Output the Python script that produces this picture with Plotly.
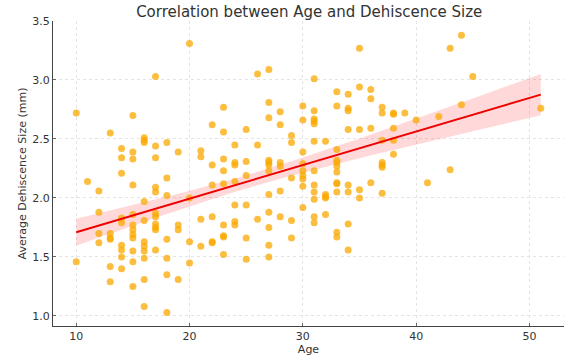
import numpy as np
import plotly.graph_objects as go

title = "Correlation between Age and Dehiscence Size"
x_label = "Age"
y_label = "Average Dehiscence Size (mm)"

age_groups = [10, 11, 12, 13, 14, 15, 16, 17, 18, 19, 20, 21, 22, 23, 24, 25, 26, 27, 28, 29,
              30, 31, 32, 33, 34, 35, 36, 37, 38, 39, 40, 41, 42, 43, 44, 45, 51]
size_groups = [
    [2.72, 1.46],
    [2.14],
    [2.06, 1.88, 1.70, 1.62],
    [2.55, 1.70, 1.66, 1.65, 1.42, 1.29],
    [2.42, 2.34, 2.21, 1.83, 1.79, 1.60, 1.56, 1.50, 1.40],
    [2.70, 2.39, 2.33, 2.11, 1.86, 1.77, 1.73, 1.69, 1.66, 1.55, 1.46, 1.25],
    [2.51, 2.49, 2.47, 1.97, 1.81, 1.63, 1.59, 1.55, 1.49, 1.31, 1.08],
    [3.03, 2.44, 2.34, 2.09, 2.05, 1.87, 1.84, 1.78, 1.75, 1.73, 1.56],
    [2.47, 2.17, 2.02, 1.65, 1.49, 1.35, 1.03],
    [2.39, 1.77, 1.73, 1.31],
    [3.31, 2.00, 1.63, 1.45],
    [2.40, 2.35, 1.82, 1.59],
    [2.62, 2.28, 2.11, 1.84, 1.63, 1.62],
    [2.77, 2.56, 2.33, 2.23, 2.12, 1.77, 1.68, 1.67, 1.52],
    [2.45, 2.30, 2.28, 2.14, 1.94, 1.80, 1.77],
    [2.58, 2.31, 2.19, 1.94, 1.66, 1.48],
    [3.05, 2.45, 1.82],
    [3.09, 2.81, 2.68, 2.32, 2.30, 2.28, 2.23, 2.03, 1.88, 1.75, 1.60, 1.50],
    [2.73, 2.62, 2.30, 2.27, 2.06, 1.84],
    [2.53, 2.47, 2.17, 1.81, 1.66],
    [2.78, 2.66, 2.39, 2.29, 2.23, 2.19, 2.16, 2.10, 1.92],
    [3.01, 2.74, 2.67, 2.65, 2.63, 2.48, 2.23, 2.11, 2.05, 1.99, 1.84, 1.79],
    [2.48, 2.03, 2.01, 2.00, 1.86],
    [2.90, 2.78, 2.41, 2.32, 2.30, 2.27, 2.22, 2.13, 2.12, 2.05, 1.71, 1.67],
    [2.88, 2.76, 2.74, 2.58, 2.11, 2.05, 1.78, 1.56],
    [3.27, 2.94, 2.58, 2.07, 2.00],
    [2.92, 2.84, 2.59, 2.13],
    [2.77, 2.72, 2.49, 2.30, 2.28, 2.26, 2.04],
    [2.72, 2.71, 2.59, 2.49, 2.37],
    [2.72],
    [2.66],
    [2.13],
    [2.69],
    [3.27, 2.24],
    [3.38, 2.79],
    [3.03],
    [2.76],
]
x_ticks = [10, 20, 30, 40, 50]
y_ticks = [1.0, 1.5, 2.0, 2.5, 3.0, 3.5]

ages = np.array([a for a, g in zip(age_groups, size_groups) for _ in g], dtype=float)
sizes = np.array([v for g in size_groups for v in g], dtype=float)

# linear regression with 95% confidence band
n = len(ages)
slope, intercept = np.polyfit(ages, sizes, 1)
xs = np.linspace(ages.min(), ages.max(), 100)
ys = intercept + slope * xs
resid = sizes - (intercept + slope * ages)
s = np.sqrt(np.sum(resid ** 2) / (n - 2))
xbar = ages.mean()
sxx = np.sum((ages - xbar) ** 2)
half = 1.97 * s * np.sqrt(1.0 / n + (xs - xbar) ** 2 / sxx)

fig = go.Figure()
fig.add_trace(go.Scatter(
    x=np.concatenate([xs, xs[::-1]]), y=np.concatenate([ys + half, (ys - half)[::-1]]),
    fill="toself", fillcolor="rgba(255,0,0,0.15)", line=dict(width=0),
    hoverinfo="skip", showlegend=False))
fig.add_trace(go.Scatter(
    x=ages, y=sizes, mode="markers",
    marker=dict(color="rgba(250,168,0,0.75)", size=7, line=dict(width=0)),
    showlegend=False))
fig.add_trace(go.Scatter(
    x=xs, y=ys, mode="lines", line=dict(color="#ee0000", width=2), showlegend=False))

axis_common = dict(
    showgrid=True, gridcolor="#e4e4e4", griddash="dot", gridwidth=1,
    showline=True, linecolor="#444", linewidth=1, mirror=False,
    ticks="inside", ticklen=3, tickcolor="#666",
    tickfont=dict(family="DejaVu Sans", size=11, color="#333"),
    zeroline=False, automargin=False,
)
fig.update_xaxes(range=[7.95, 53.05], tickvals=x_ticks,
                 title=dict(text=x_label, font=dict(family="DejaVu Sans", size=11, color="#333"), standoff=1),
                 **axis_common)
fig.update_yaxes(range=[0.915, 3.5], tickvals=y_ticks, tickformat=".1f",
                 title=dict(text=y_label, font=dict(family="DejaVu Sans", size=11, color="#333"), standoff=3),
                 **axis_common)
fig.update_layout(
    width=578, height=361,
    margin=dict(l=53, r=14, t=21, b=35, autoexpand=False),
    paper_bgcolor="white", plot_bgcolor="white",
    title=dict(text=title, x=0.535, xanchor="center", y=0.967, yanchor="middle",
               automargin=False,
               font=dict(family="DejaVu Sans", size=15, color="#333")),
)
fig.write_html("out.html", config={"displayModeBar": False},
               post_script="document.body.style.margin='0px';document.body.style.overflow='hidden';")
